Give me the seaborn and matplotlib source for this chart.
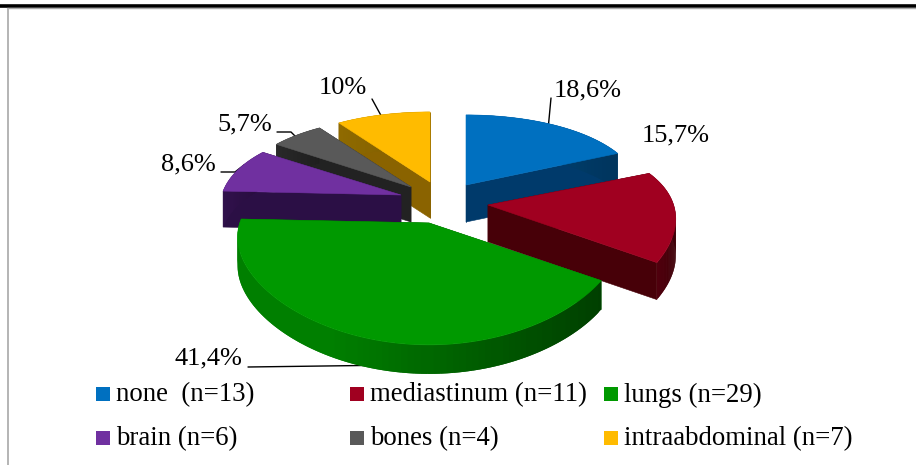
import numpy as np
import seaborn as sns
import matplotlib
matplotlib.use('Agg')
import matplotlib.pyplot as plt

# data
sites = ['none  (n=13)', 'mediastinum (n=11)', 'lungs (n=29)',
         'brain (n=6)', 'bones (n=4)', 'intraabdominal (n=7)']
counts = [13, 11, 29, 6, 4, 7]
pct_labels = ['18,6%', '15,7%', '41,4%', '8,6%', '5,7%', '10%']

# colours: top face, side light, side dark
top_colors = ['#0070C0', '#A00020', '#009900', '#7030A0', '#595959', '#FFBB00']
side_light = ['#004A80', '#5A0010', '#007F00', '#32124D', '#2A2A2A', '#8F6A00']
side_dark = ['#00345C', '#3E0008', '#003F00', '#260C3C', '#1E1E1E', '#7A5A00']
face_colors = ['#003A6B', '#470008', '#005500', '#2B0F45', '#222222', '#8A6300']

# layout, in pixels of the 916x465 picture
apex_x = [466, 488, 429, 401, 411, 430]
apex_y = [185, 205, 223, 195, 187, 182]
radius_scale = [0.96, 1.02, 1.04, 0.985, 0.96, 0.955]
depth = [37, 37, 29, 36, 35, 36]
draw_order = [5, 4, 3, 0, 1, 2]
RX, RY, PERSP_X, PERSP_Y = 182, 89, 0.15, 0.27


def project(i, angle, r=1.0):
    # angle is clockwise from the back of the pie, in radians
    u = r * np.sin(angle) * radius_scale[i]
    v = r * np.cos(angle)
    return (apex_x[i] + RX * u / (1 + PERSP_X * v),
            apex_y[i] - RY * v / (1 + PERSP_Y * v))


sns.set_theme(style='white')
plt.rcParams['font.family'] = ['Liberation Serif', 'DejaVu Serif']

fig = plt.figure(figsize=(9.16, 4.65), dpi=100)
ax = fig.add_axes([0, 0, 1, 1])
ax.set_xlim(0, 916)
ax.set_ylim(465, 0)
ax.axis('off')

# page rules
ax.plot([0, 916], [6.5, 6.5], color='black', lw=2.6, solid_capstyle='butt')
ax.plot([7, 916], [8.5, 8.5], color='#aaaaaa', lw=1)
ax.plot([7.5, 7.5], [8, 465], color='#b4b4b4', lw=1.4, solid_capstyle='butt')

# leader lines go under the slices
leaders = [([551, 548], [98, 130]), ([372, 384], [99, 121]),
           ([277, 291, 300], [132, 132, 141]),
           ([221, 235, 244], [172, 172, 165]),
           ([248, 400], [367, 365])]
for lx, ly in leaders:
    ax.plot(lx, ly, color='black', lw=1, zorder=0.5)

# slices
edges = np.cumsum([0] + counts) / sum(counts) * 2 * np.pi
for i in draw_order:
    a0, a1 = edges[i], edges[i + 1]
    d = depth[i]
    ax_x, ax_y = project(i, 0, 0)

    # cut faces
    for a in (a0, a1):
        x, y = project(i, a)
        ax.fill([ax_x, x, x, ax_x], [ax_y, y, y + d, ax_y + d],
                color=face_colors[i], lw=0.4)

    # rim, shaded from left to right
    angles = np.linspace(a0, a1, 90)
    xs, ys = project(i, angles)
    span = max(xs.max() - xs.min(), 1)
    shades = sns.blend_palette([side_light[i], side_dark[i]], 40)
    for k in range(len(angles) - 2):
        if i == 2:
            # lungs: mid green until the bottom, then dark to the right
            t = np.clip((xs[k] - 330) / (xs.max() - 330), 0, 1)
        else:
            t = (xs[k] - xs.min()) / span
        ax.fill([xs[k], xs[k + 2], xs[k + 2], xs[k]],
                [ys[k], ys[k + 2], ys[k + 2] + d, ys[k] + d],
                color=shades[int(t * 39)], lw=0)

    # top face
    ax.fill(np.r_[ax_x, xs], np.r_[ax_y, ys], color=top_colors[i], lw=0.4)

# percentage labels
label_x = [588, 676, 208, 188, 245, 343]
label_y = [90, 135, 358, 164, 124, 88]
for t, x, y in zip(pct_labels, label_x, label_y):
    ax.text(x, y, t, ha='center', va='center', fontsize=19, color='black')

# legend
legend_x = [96, 350, 604, 96, 350, 604]
legend_y = [394, 394, 394, 438, 438, 438]
for name, col, x, y in zip(sites, top_colors, legend_x, legend_y):
    ax.scatter([x + 6.5], [y], marker='s', s=90, color=col, linewidths=0)
    ax.text(x + 20, y + 1, name, ha='left', va='center', fontsize=19.3, color='black')

fig.savefig('out.png', dpi=100)
